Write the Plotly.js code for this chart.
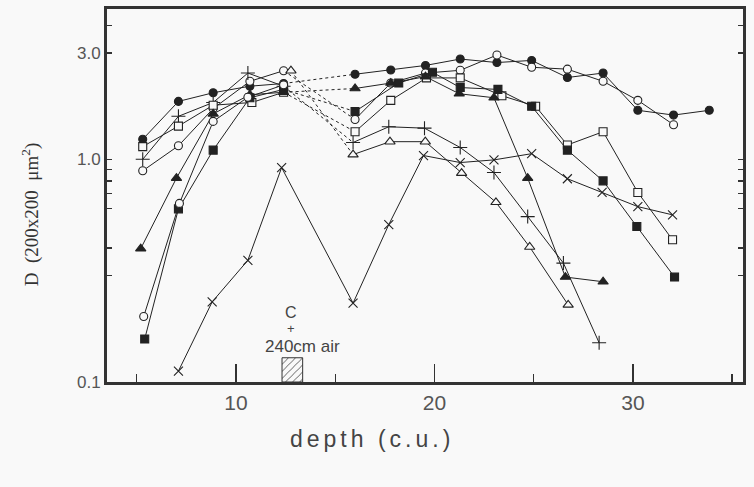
<!DOCTYPE html>
<html>
<head>
<meta charset="utf-8">
<script src="https://cdn.plot.ly/plotly-3.0.1.min.js"></script>
<style>
  html, body { margin: 0; padding: 0; background: #f9f9f9; }
  #chart { width: 754px; height: 487px; }
</style>
</head>
<body>
<div id="chart"></div>
<script>
// ---- data (depth in c.u., D in 200x200 um^2) ----
const xFilledCircle = [5.3, 7.1, 8.85, 10.7, 12.4, 16.0, 17.8, 19.55, 21.3, 23.15, 24.9, 26.7, 28.5, 30.25, 32.05, 33.85];
const yFilledCircle = [1.23, 1.82, 1.99, 2.13, 2.19, 2.41, 2.52, 2.64, 2.82, 2.72, 2.78, 2.33, 2.44, 1.66, 1.58, 1.66];

const xOpenCircle = [5.3, 7.1, 8.85, 10.7, 12.4, 16.0, 17.8, 19.55, 21.3, 23.15, 24.9, 26.7, 28.5, 30.25, 32.05];
const yOpenCircle = [0.888, 1.15, 1.69, 2.24, 2.50, 1.51, 2.20, 2.44, 2.51, 2.94, 2.59, 2.54, 2.24, 1.84, 1.43];

const xPlus = [5.3, 7.1, 8.85, 10.6, 12.4, 15.9, 17.7, 19.5, 21.3, 23.0, 24.7, 26.5, 28.3];
const yPlus = [1.00, 1.56, 1.80, 2.44, 2.13, 1.19, 1.40, 1.38, 1.13, 0.872, 0.553, 0.342, 0.150];

const xOpenSquare = [5.3, 7.1, 8.85, 10.8, 12.4, 16.0, 17.8, 19.6, 21.3, 23.4, 25.1, 26.7, 28.5, 30.25, 32.0];
const yOpenSquare = [1.14, 1.41, 1.75, 1.80, 2.00, 1.33, 1.84, 2.32, 2.32, 1.93, 1.73, 1.16, 1.33, 0.71, 0.435];

const xFilledSquare = [5.4, 7.1, 8.85, 10.7, 12.4, 16.0, 18.2, 19.9, 21.3, 23.2, 24.9, 26.7, 28.5, 30.2, 32.1];
const yFilledSquare = [0.156, 0.599, 1.10, 1.89, 2.06, 1.64, 2.20, 2.46, 2.10, 2.06, 1.73, 1.10, 0.80, 0.499, 0.296];

const xFilledTriangle = [5.2, 7.0, 8.85, 10.7, 12.4, 16.0, 17.8, 19.55, 21.25, 23.0, 24.7, 26.6, 28.5];
const yFilledTriangle = [0.397, 0.823, 1.60, 1.95, 2.00, 2.08, 2.20, 2.35, 1.97, 1.89, 0.823, 0.296, 0.282];

const xOpenTriangle = [12.77, 15.9, 17.76, 19.54, 21.37, 23.1, 24.8, 26.74];
const yOpenTriangle = [2.50, 1.05, 1.20, 1.20, 0.867, 0.641, 0.404, 0.222];

const xCross = [7.1, 8.8, 10.6, 12.3, 15.9, 17.7, 19.45, 21.3, 23.0, 24.9, 26.7, 28.45, 30.25, 32.0];
const yCross = [0.112, 0.229, 0.352, 0.918, 0.226, 0.509, 1.04, 0.967, 0.994, 1.06, 0.818, 0.71, 0.613, 0.563];

const xLowCircle = [5.35, 7.15, 8.85, 10.6, 12.4];
const yLowCircle = [0.197, 0.634, 1.48, 1.90, 2.16];

// air gap (hatched) block: centre depth and top value
const airX = [12.84];
const airTop = [0.1285];
const airBase = 0.1;

const tickX = [10, 20, 30];
const tickXLabels = ['10', '20', '30'];
const tickY = [0.1, 1, 3];
const tickYLabels = ['0.1', '1.0', '3.0'];

// ---- styles ----
const INK = '#222';
const BG = '#f9f9f9';
const GAP = 14; // depth that separates the two measured stretches

const styles = [
  {x: xFilledCircle,   y: yFilledCircle,   sym: 'circle',        fill: INK, size: 8},
  {x: xOpenCircle,     y: yOpenCircle,     sym: 'circle',        fill: BG,  size: 8},
  {x: xPlus,           y: yPlus,           sym: 'cross-thin-open', fill: INK, size: 10, thin: true},
  {x: xOpenSquare,     y: yOpenSquare,     sym: 'square',        fill: BG,  size: 8},
  {x: xFilledSquare,   y: yFilledSquare,   sym: 'square',        fill: INK, size: 8},
  {x: xFilledTriangle, y: yFilledTriangle, sym: 'triangle-up',   fill: INK, size: 9},
  {x: xOpenTriangle,   y: yOpenTriangle,   sym: 'triangle-up',   fill: BG,  size: 9},
  {x: xLowCircle,      y: yLowCircle,      sym: 'circle',        fill: BG,  size: 8}
];

function markerOf(s) {
  if (s.thin) return {symbol: s.sym, size: s.size, color: INK, line: {color: INK, width: 1.1}};
  return {symbol: s.sym, size: s.size, color: s.fill, line: {color: INK, width: 1.1}};
}

const traces = [];
// hatched "air" block
traces.push({
  type: 'bar', x: airX, y: airTop.map(v => v - airBase), base: [airBase], width: [1.04],
  marker: {color: BG, line: {color: '#333', width: 1},
           pattern: {shape: '/', fgcolor: '#333', bgcolor: BG, size: 5, solidity: 0.15}},
  hoverinfo: 'skip', showlegend: false
});

// dashed connectors across the gap first (drawn underneath)
styles.forEach(s => {
  const left = s.x.map((v, i) => i).filter(i => s.x[i] < GAP);
  const right = s.x.map((v, i) => i).filter(i => s.x[i] >= GAP);
  if (left.length && right.length) {
    const a = left[left.length - 1], b = right[0];
    traces.push({type: 'scatter', mode: 'lines', x: [s.x[a], s.x[b]], y: [s.y[a], s.y[b]],
      line: {color: INK, width: 1, dash: '3px,3px'}, hoverinfo: 'skip', showlegend: false});
  }
});

// cross series: continuous solid line
traces.push({type: 'scatter', mode: 'lines+markers', x: xCross, y: yCross,
  line: {color: INK, width: 1},
  marker: {symbol: 'x-thin-open', size: 9, color: INK, line: {color: INK, width: 1.1}},
  showlegend: false});

// other series: two solid stretches
styles.forEach(s => {
  const idxL = s.x.map((v, i) => i).filter(i => s.x[i] < GAP);
  const idxR = s.x.map((v, i) => i).filter(i => s.x[i] >= GAP);
  [idxL, idxR].forEach(idx => {
    if (!idx.length) return;
    traces.push({type: 'scatter', mode: 'lines+markers',
      x: idx.map(i => s.x[i]), y: idx.map(i => s.y[i]),
      line: {color: INK, width: 1}, marker: markerOf(s), showlegend: false});
  });
});

const SANS = 'Liberation Sans, Arial, sans-serif';
const FONT_TICK = {family: SANS, size: 17, color: '#555'};

const layout = {
  width: 754, height: 487,
  margin: {l: 107, r: 11, t: 9, b: 105},
  paper_bgcolor: BG, plot_bgcolor: BG,
  showlegend: false,
  barmode: 'overlay',
  xaxis: {
    range: [3.5, 35.55], tickvals: tickX, ticktext: tickXLabels,
    ticks: 'inside', ticklen: 18, tickwidth: 1.3, tickcolor: '#333',
    minor: {tickvals: [5, 15, 25, 35], ticks: 'inside', ticklen: 8, tickwidth: 1.3, tickcolor: '#333'},
    showline: true, linewidth: 3, linecolor: '#333', mirror: true,
    showgrid: false, zeroline: false,
    tickfont: {family: SANS, size: 21, color: '#555'}
  },
  yaxis: {
    type: 'log', range: [-1, 0.675],
    tickvals: tickY, ticktext: tickYLabels,
    ticks: 'inside', ticklen: 5, tickwidth: 1.3, tickcolor: '#333',
    minor: {tickvals: [0.3, 0.4, 0.6, 0.7, 0.8, 0.9, 4], ticks: 'inside', ticklen: 5, tickwidth: 1.3, tickcolor: '#333'},
    showline: true, linewidth: 3, linecolor: '#333', mirror: 'ticks',
    showgrid: false, zeroline: false,
    tickfont: FONT_TICK
  },
  yaxis2: {
    type: 'log', range: [-1, 0.675], overlaying: 'y', anchor: 'x',
    tickvals: [1], ticks: 'inside', ticklen: 20, tickwidth: 1.3, tickcolor: '#333',
    showticklabels: false, showline: false, showgrid: false, zeroline: false, mirror: 'ticks'
  },
  yaxis3: {
    type: 'log', range: [-1, 0.675], overlaying: 'y', anchor: 'x',
    tickvals: [0.2, 0.5, 2], ticks: 'inside', ticklen: 11, tickwidth: 1.3, tickcolor: '#333',
    showticklabels: false, showline: false, showgrid: false, zeroline: false, mirror: 'ticks'
  },
  annotations: [
    {xref: 'x', yref: 'y', x: 12.75, y: -0.69, text: 'C', showarrow: false,
     xanchor: 'center', yanchor: 'middle',
     font: {family: SANS, size: 16, color: '#444'}},
    {xref: 'x', yref: 'y', x: 12.75, y: -0.758, text: '+', showarrow: false,
     xanchor: 'center', yanchor: 'middle',
     font: {family: SANS, size: 13, color: '#444'}},
    {xref: 'x', yref: 'y', x: 13.35, y: -0.84, text: '240cm air', showarrow: false,
     xanchor: 'center', yanchor: 'middle',
     font: {family: SANS, size: 17, color: '#444'}},
    {xref: 'paper', yref: 'paper', x: 0.417, y: -0.152, text: 'depth (c.u.)', showarrow: false,
     xanchor: 'center', yanchor: 'middle',
     font: {family: SANS, size: 23, color: '#444'}},
    {xref: 'paper', yref: 'paper', x: -0.121, y: 0.45, textangle: -90,
     xanchor: 'center', yanchor: 'middle',
     text: 'D  (200x200  \u03bcm<sup>2</sup>)', showarrow: false,
     font: {family: 'Liberation Serif, Times New Roman, serif', size: 19, color: '#333'}}
  ]
};

Plotly.newPlot('chart', traces, layout, {staticPlot: true}).then(() => {
  document.querySelectorAll('.annotation-text').forEach(el => {
    if (el.textContent.indexOf('depth') === 0) el.setAttribute('letter-spacing', '4px');
  });
});
</script>
</body>
</html>
